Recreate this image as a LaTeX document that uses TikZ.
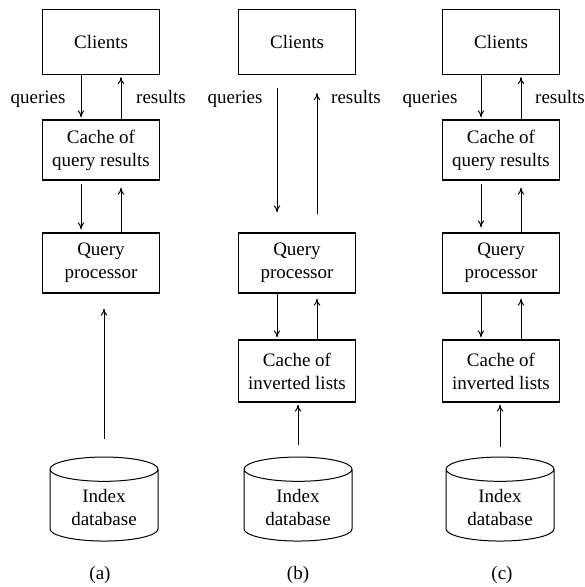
\documentclass[tikz,border=0pt]{standalone}
\usepackage{fontspec}
\setmainfont{Liberation Serif}
\usetikzlibrary{arrows.meta, shapes.geometric}
\tikzset{
  procbox/.style = {rectangle, draw, line width=0.6pt, align=center, minimum width=58.5pt, minimum height=30pt, inner sep=2pt, font=\fontsize{9.5}{11.5}\selectfont},
  clientbox/.style = {procbox, minimum height=32.5pt},
  invbox/.style = {procbox, minimum height=31pt},
  dbcyl/.style = {cylinder, shape border rotate=90, draw, line width=0.5pt, aspect=0.35, minimum width=54pt, minimum height=42pt, align=center, inner sep=1pt, font=\fontsize{9.5}{11.5}\selectfont},
  flow/.style = {-{To[length=3.5pt,width=3.2pt]}, line width=0.5pt},
  lbl/.style = {inner sep=1pt, font=\fontsize{9.5}{11.5}\selectfont},
  armlbl/.style = {lbl, anchor=base}
}

\begin{document}
\begin{tikzpicture}[x=0.5pt, y=-0.5pt]
    \useasboundingbox (0,0) rectangle (584,587);

    % (a)
    \node[clientbox] (cliA) at (101,42) {Clients};
    \node[procbox] (qcacheA) at (101,150) {Cache of\\query results};
    \node[procbox] (qprocA) at (101,263) {Query\\processor};
    \node[dbcyl] (dbA) at (104,507) {Index\\database};
    \node[armlbl] (qryA) at (38,104) {queries};
    \node[armlbl] (resA) at (161,104) {results};
    \node[lbl] (capA) at (100,575) {(a)};
    \draw[flow, shorten >=1pt] ([xshift=-10pt]cliA.south) -- ([xshift=-10pt]qcacheA.north);
    \draw[flow, shorten >=1pt] ([xshift=10pt]qcacheA.north) -- ([xshift=10pt]cliA.south);
    \draw[flow, shorten <=1.5pt, shorten >=1.5pt] ([xshift=-10pt]qcacheA.south) -- ([xshift=-10pt]qprocA.north);
    \draw[flow, shorten >=3.5pt] ([xshift=10pt]qprocA.north) -- ([xshift=10pt]qcacheA.south);
    \draw[flow, shorten <=9pt, shorten >=7.5pt] (dbA.top) -- (dbA.top |- qprocA.south);

    % (b)
    \node[clientbox] (cliB) at (297,42) {Clients};
    \node[procbox] (qprocB) at (297,263) {Query\\processor};
    \node[invbox] (icacheB) at (297,371) {Cache of\\inverted lists};
    \node[dbcyl] (dbB) at (298,507) {Index\\database};
    \node[armlbl] (qryB) at (235,104) {queries};
    \node[armlbl] (resB) at (356,104) {results};
    \node[lbl] (capB) at (298,575) {(b)};
    \draw[flow, shorten <=6.5pt, shorten >=10pt] ([xshift=-10pt]cliB.south) -- ([xshift=-10pt]qprocB.north);
    \draw[flow, shorten <=9pt, shorten >=9pt] ([xshift=10pt]qprocB.north) -- ([xshift=10pt]cliB.south);
    \draw[flow, shorten >=1pt] ([xshift=-10pt]qprocB.south) -- ([xshift=-10pt]icacheB.north);
    \draw[flow, shorten >=2.5pt] ([xshift=10pt]icacheB.north) -- ([xshift=10pt]qprocB.south);
    \draw[flow, shorten <=6pt, shorten >=1pt] (dbB.top) -- (dbB.top |- icacheB.south);

    % (c)
    \node[clientbox] (cliC) at (501,42) {Clients};
    \node[procbox] (qcacheC) at (501,150) {Cache of\\query results};
    \node[procbox] (qprocC) at (501,263) {Query\\processor};
    \node[invbox] (icacheC) at (501,371) {Cache of\\inverted lists};
    \node[dbcyl] (dbC) at (500,507) {Index\\database};
    \node[armlbl] (qryC) at (430,104) {queries};
    \node[armlbl] (resC) at (560,104) {results};
    \node[lbl] (capC) at (502,575) {(c)};
    \draw[flow, shorten >=1pt] ([xshift=-10pt]cliC.south) -- ([xshift=-10pt]qcacheC.north);
    \draw[flow, shorten >=1pt] ([xshift=10pt]qcacheC.north) -- ([xshift=10pt]cliC.south);
    \draw[flow, shorten <=1.5pt, shorten >=2.5pt] ([xshift=-10pt]qcacheC.south) -- ([xshift=-10pt]qprocC.north);
    \draw[flow, shorten >=3.5pt] ([xshift=10pt]qprocC.north) -- ([xshift=10pt]qcacheC.south);
    \draw[flow, shorten >=1pt] ([xshift=-10pt]qprocC.south) -- ([xshift=-10pt]icacheC.north);
    \draw[flow, shorten >=2.5pt] ([xshift=10pt]icacheC.north) -- ([xshift=10pt]qprocC.south);
    \draw[flow, shorten <=5pt, shorten >=1pt] (dbC.top) -- (dbC.top |- icacheC.south);
\end{tikzpicture}
\end{document}
